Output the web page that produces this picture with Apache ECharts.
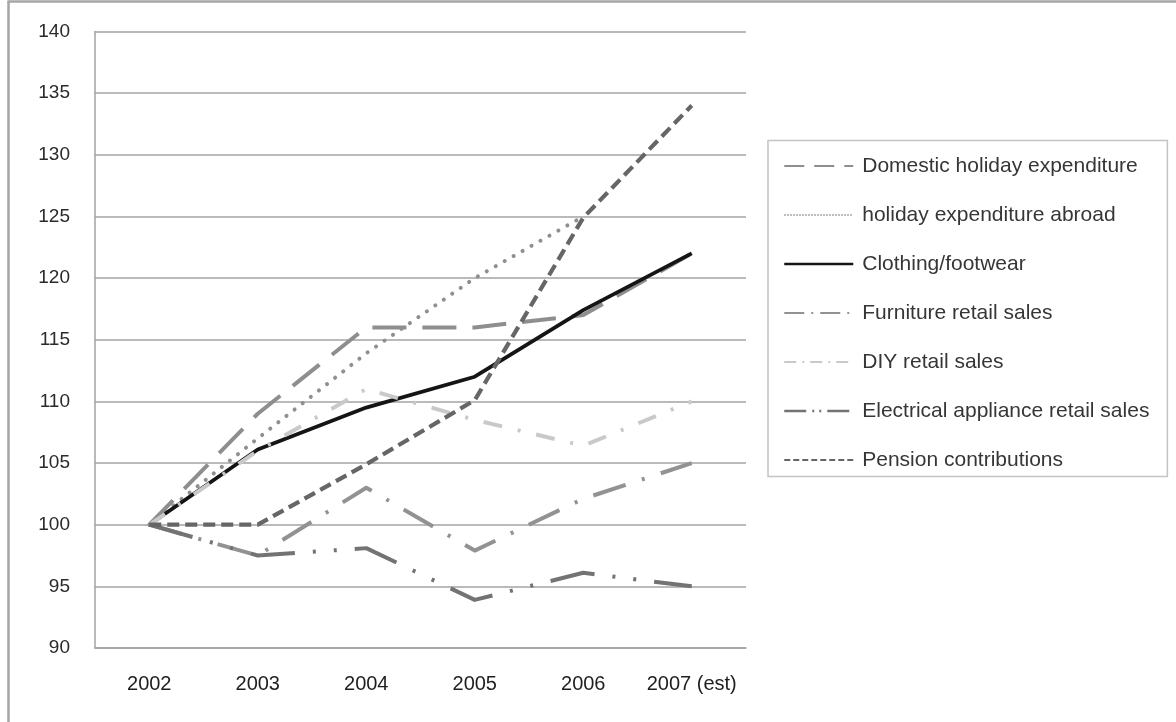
<!DOCTYPE html>
<html>
<head>
<meta charset="utf-8">
<script src="https://cdn.jsdelivr.net/npm/echarts@6/dist/echarts.min.js"></script>
<style>
html,body{margin:0;padding:0;background:#fff;}
#chart{width:1176px;height:722px;}
</style>
</head>
<body>
<div id="chart"></div>
<script>
// ---- data ----
var categories = ['2002', '2003', '2004', '2005', '2006', '2007 (est)'];
var seriesNames = [
  'Domestic holiday expenditure',
  'holiday expenditure abroad',
  'Clothing/footwear',
  'Furniture retail sales',
  'DIY retail sales',
  'Electrical appliance retail sales',
  'Pension contributions'
];
var domesticHoliday = [100, 109, 116, 116, 117, 122];
var holidayAbroad   = [100, 107, 113.9, 120, 125, null];
var clothing        = [100, 106.1, 109.5, 112, 117.4, 122];
var furniture       = [100, 97.5, 103, 97.9, 102.1, 105];
var diy             = [100, 106, 111, 108.5, 106.4, 110];
var electrical      = [100, 97.5, 98.1, 93.9, 96.1, 95];
var pension         = [100, 100, 104.9, 110.1, 124.9, 134];
var yTicks = [90, 95, 100, 105, 110, 115, 120, 125, 130, 135, 140];

var values = [domesticHoliday, holidayAbroad, clothing, furniture, diy, electrical, pension];

// ---- styles ----
var styles = [
  {color: '#8e8e8e', width: 4, type: [34, 16], cap: 'butt',
   legend: {width: 2, type: [20, 10]}},
  {color: '#8f8f8f', width: 4, type: [0.1, 10.2], cap: 'round',
   legend: {width: 1.5, type: [1.5, 1.5], cap: 'butt'}},
  {color: '#151515', width: 3.8, type: 'solid', cap: 'butt',
   legend: {width: 2.5, type: 'solid'}},
  {color: '#929292', width: 4, type: [34, 17, 3, 17], cap: 'butt',
   legend: {width: 2, type: [20, 7, 2, 7]}},
  {color: '#c9c9c9', width: 4, type: [19, 16, 3, 16], cap: 'butt',
   legend: {width: 2, type: [12, 6, 2, 6]}},
  {color: '#737373', width: 4, type: [45, 18, 3, 18, 3, 18], cap: 'butt',
   legend: {width: 2.5, type: [22, 6, 2, 5, 2, 6]}},
  {color: '#666666', width: 4.2, type: [12, 6], cap: 'butt',
   legend: {width: 2.2, type: [6, 3]}}
];

var series = seriesNames.map(function (name, i) {
  var s = styles[i];
  return {
    name: name,
    type: 'line',
    data: values[i],
    symbol: 'none',
    showSymbol: false,
    connectNulls: false,
    animation: false,
    lineStyle: {color: s.color, width: s.width, type: s.type, cap: s.cap, join: 'round'},
    itemStyle: {color: s.color}
  };
});

var legendData = seriesNames.map(function (name, i) {
  var s = styles[i];
  return {
    name: name,
    itemStyle: {opacity: 0},
    lineStyle: {color: s.color, width: s.legend.width, type: s.legend.type, cap: s.legend.cap || 'butt', opacity: 1}
  };
});

var gridColor = '#a3a3a3';
var font = '"Liberation Sans", Arial, sans-serif';

var chart = echarts.init(document.getElementById('chart'), null, {renderer: 'canvas'});
chart.setOption({
  animation: false,
  backgroundColor: '#ffffff',
  grid: {left: 95, right: 430, top: 31.5, bottom: 74, containLabel: false},
  xAxis: {
    type: 'category',
    data: categories,
    boundaryGap: true,
    axisLine: {show: true, lineStyle: {color: gridColor, width: 1.5}},
    axisTick: {show: false},
    axisLabel: {color: '#1e1e1e', fontSize: 20, fontFamily: font, margin: 26, interval: 0}
  },
  yAxis: {
    type: 'value',
    min: yTicks[0],
    max: yTicks[yTicks.length - 1],
    interval: 5,
    axisLine: {show: true, lineStyle: {color: gridColor, width: 1.5}},
    axisTick: {show: false},
    splitLine: {show: true, lineStyle: {color: gridColor, width: 1.5}},
    axisLabel: {color: '#2a2a2a', fontSize: 19, fontFamily: font, margin: 25}
  },
  legend: {
    orient: 'vertical',
    left: 768,
    top: 140.5,
    padding: [15, 18, 6, 15],
    itemGap: 28,
    itemWidth: 69,
    itemHeight: 20,
    borderColor: '#c4c4c4',
    borderWidth: 1.5,
    selectedMode: false,
    textStyle: {color: '#363636', fontSize: 21, fontFamily: font, lineHeight: 20, padding: [0, 0, 0, 4]},
    data: legendData
  },
  graphic: [
    {type: 'line', shape: {x1: 8.5, y1: 1, x2: 8.5, y2: 722}, style: {stroke: '#a6a6a6', lineWidth: 2.5}, silent: true},
    {type: 'line', shape: {x1: 7.5, y1: 1.5, x2: 1176, y2: 1.5}, style: {stroke: '#a6a6a6', lineWidth: 2.5}, silent: true}
  ],
  series: series
});
</script>
</body>
</html>
